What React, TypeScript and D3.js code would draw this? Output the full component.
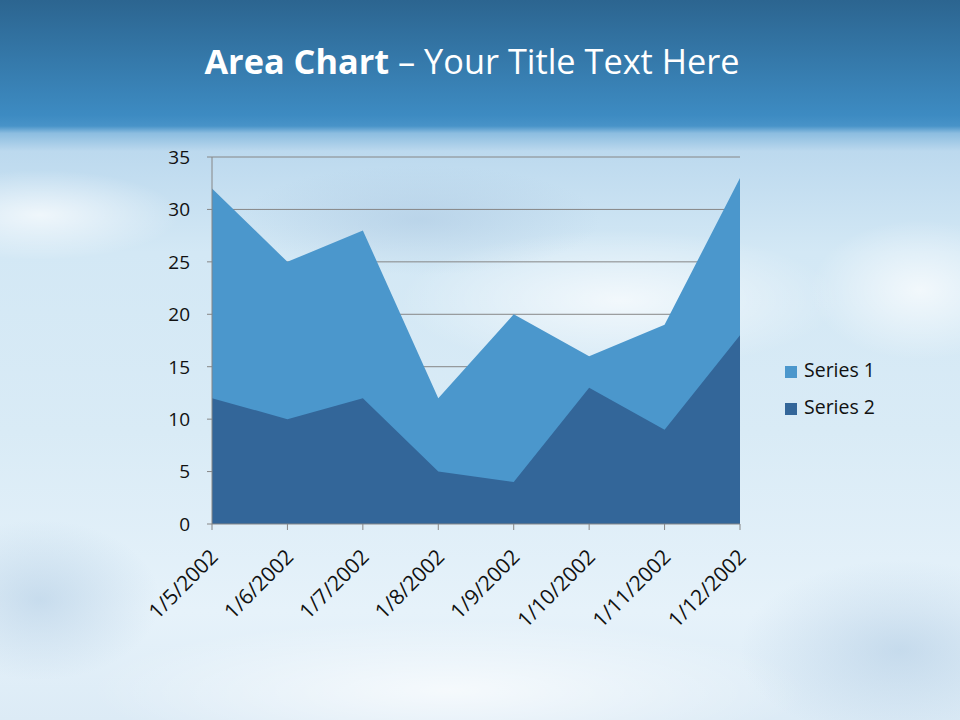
import React from "react";
import * as d3 from "d3";

const categories = ["1/5/2002", "1/6/2002", "1/7/2002", "1/8/2002", "1/9/2002", "1/10/2002", "1/11/2002", "1/12/2002"];
const series1 = [32, 25, 28, 12, 20, 16, 19, 33];
const series2 = [12, 10, 12, 5, 4, 13, 9, 18];
const seriesNames = ["Series 1", "Series 2"];
const seriesColors = ["#4b97cc", "#336699"];
const yTicks = [0, 5, 10, 15, 20, 25, 30, 35];

const W = 960, H = 720;
const plot = { left: 212, right: 740, top: 157, bottom: 524 };
const FONT = "'Open Sans', sans-serif";

export default function App() {
  const x = d3.scalePoint<string>().domain(categories).range([plot.left, plot.right]);
  const y = d3.scaleLinear().domain([0, 35]).range([plot.bottom, plot.top]);
  const area = d3
    .area<number>()
    .x((_, i) => x(categories[i]) as number)
    .y0(y(0))
    .y1((d) => y(d));
  const data = [series1, series2];

  return (
    <div style={{ position: "fixed", left: 0, top: 0, width: W, height: H }}>
      <svg width={W} height={H} style={{ display: "block" }} fontFamily={FONT}>
        <defs>
          <linearGradient id="bg" x1="0" y1="0" x2="0" y2="1">
            <stop offset="0" stopColor="#2c6590" />
            <stop offset="0.16" stopColor="#3d8bc2" />
            <stop offset="0.175" stopColor="#4893c8" />
            <stop offset="0.185" stopColor="#8cbde0" />
            <stop offset="0.21" stopColor="#bcd9ee" />
            <stop offset="0.35" stopColor="#d3e8f5" />
            <stop offset="0.6" stopColor="#d9ebf6" />
            <stop offset="0.85" stopColor="#e6f2fa" />
            <stop offset="1" stopColor="#dcebf6" />
          </linearGradient>
          <radialGradient id="glow1" cx="0.5" cy="0.5" r="0.5">
            <stop offset="0" stopColor="#ffffff" stopOpacity="0.7" />
            <stop offset="1" stopColor="#ffffff" stopOpacity="0" />
          </radialGradient>
          <radialGradient id="shade1" cx="0.5" cy="0.5" r="0.5">
            <stop offset="0" stopColor="#a9c6e0" stopOpacity="0.5" />
            <stop offset="1" stopColor="#a9c6e0" stopOpacity="0" />
          </radialGradient>
        </defs>
        <rect x={0} y={0} width={W} height={H} fill="url(#bg)" />
        <ellipse cx={40} cy={215} rx={140} ry={45} fill="url(#glow1)" />
        <ellipse cx={620} cy={300} rx={220} ry={70} fill="url(#glow1)" />
        <ellipse cx={920} cy={290} rx={110} ry={70} fill="url(#glow1)" />
        <ellipse cx={450} cy={690} rx={360} ry={70} fill="url(#glow1)" />
        <ellipse cx={420} cy={220} rx={180} ry={55} fill="url(#shade1)" />
        <ellipse cx={900} cy={650} rx={160} ry={90} fill="url(#shade1)" />
        <ellipse cx={40} cy={600} rx={120} ry={80} fill="url(#shade1)" />

        <text x={472} y={74} textAnchor="middle" fill="#ffffff" fontSize={34.3} fontFamily={FONT}>
          <tspan fontWeight="bold">Area Chart</tspan>
          <tspan> – Your Title Text Here</tspan>
        </text>

        {yTicks.slice(1).map((t) => (
          <line key={"g" + t} x1={plot.left - 5} x2={plot.right} y1={y(t)} y2={y(t)} stroke="#868686" strokeWidth={1} />
        ))}

        {data.map((s, i) => (
          <path key={"a" + i} d={area(s) as string} fill={seriesColors[i]} />
        ))}

        <line x1={plot.left} x2={plot.left} y1={plot.top} y2={plot.bottom} stroke="#868686" />
        <line x1={plot.left - 5} x2={plot.right} y1={plot.bottom} y2={plot.bottom} stroke="#868686" />
        {categories.map((c) => (
          <line key={"t" + c} x1={x(c)} x2={x(c)} y1={plot.bottom} y2={plot.bottom + 6} stroke="#868686" />
        ))}

        {yTicks.map((t) => (
          <text key={"y" + t} x={190} y={y(t)} dy="0.36em" textAnchor="end" fontSize={19} fill="#111">
            {t}
          </text>
        ))}

        {categories.map((c) => (
          <text
            key={"x" + c}
            transform={`translate(${(x(c) as number) + 2},${plot.bottom + 29}) rotate(-45)`}
            textAnchor="end"
            dy="0.36em"
            fontSize={21}
            fill="#111"
          >
            {c}
          </text>
        ))}

        {seriesNames.map((n, i) => (
          <g key={"l" + n} transform={`translate(785,${366 + i * 37})`}>
            <rect x={0} y={0} width={12} height={12} fill={seriesColors[i]} />
            <text x={19} y={11} fontSize={19.5} fill="#111">
              {n}
            </text>
          </g>
        ))}
      </svg>
    </div>
  );
}
